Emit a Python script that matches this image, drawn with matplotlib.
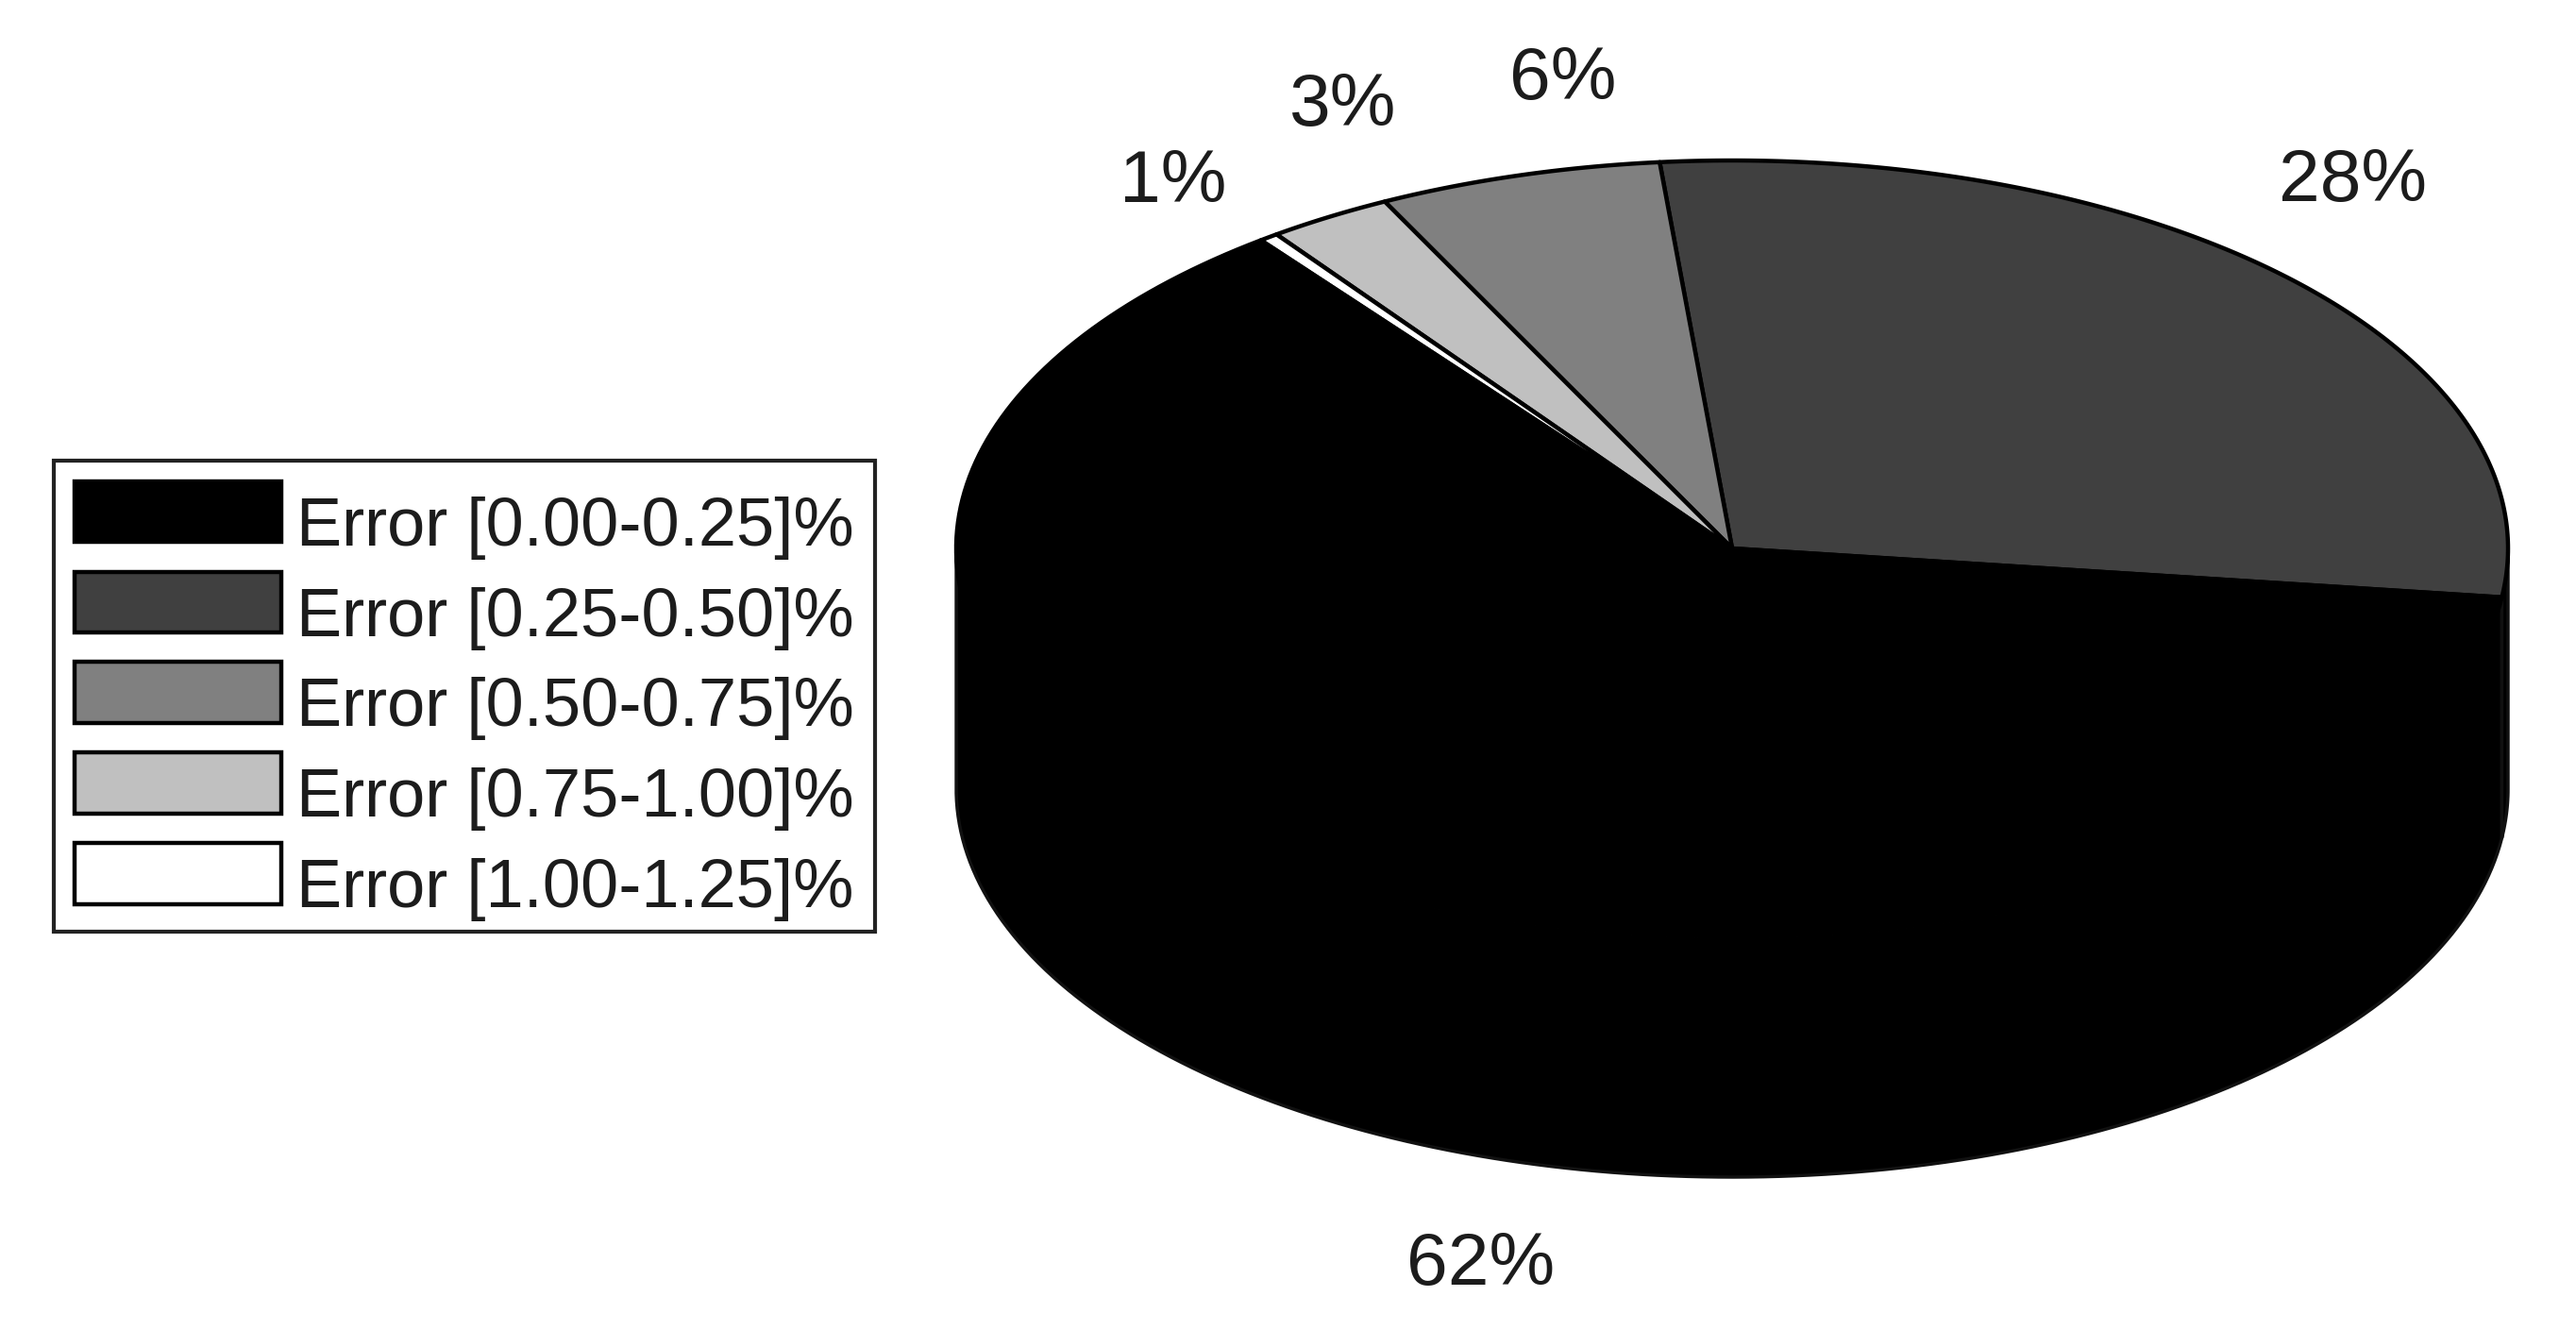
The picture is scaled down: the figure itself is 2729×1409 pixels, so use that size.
# 3d looking pie of the error bins, drawn by hand since matplotlib has no pie3
import matplotlib
matplotlib.use('Agg')
import matplotlib.pyplot as plt
import numpy as np

plt.rcParams['font.family'] = ['Liberation Sans', 'DejaVu Sans']

bins = ['Error [0.00-0.25]%', 'Error [0.25-0.50]%', 'Error [0.50-0.75]%',
        'Error [0.75-1.00]%', 'Error [1.00-1.25]%']
shares = [62.6, 28.5, 5.9, 2.6, 0.4]
shown = ['62%', '28%', '6%', '3%', '1%']
greys = ['#000000', '#404040', '#808080', '#c0c0c0', '#ffffff']

# ellipse of the top face and thickness, in pixels of the picture
cx, cy, rx, ry, depth = 1835, 581, 822, 411, 255
start = 127.4
label_pos = [(1569, 1340), (2492, 193), (1656, 85), (1422, 113), (1243, 193)]

fig = plt.figure(figsize=(27.29, 14.09), dpi=100)
ax = fig.add_axes([0, 0, 1, 1])
ax.set_xlim(0, 2729)
ax.set_ylim(1409, 0)
ax.set_axis_off()

edges = start + np.cumsum([0] + shares) * 3.6
handles = []
tops = []
for i in range(len(shares)):
    th = np.radians(np.linspace(edges[i], edges[i + 1], 200))
    x = cx + rx * np.cos(th)
    y = cy - ry * np.sin(th)
    tops.append((x, y))
    # side wall, only the front half can be seen
    front = np.sin(th) <= 0
    if front.any():
        xs = x[front]
        ys = y[front]
        ax.fill(np.r_[xs, xs[::-1]], np.r_[ys, ys[::-1] + depth],
                color='#000000', ec='#111111', lw=2.5, zorder=1)

for i in range(len(shares)):
    x, y = tops[i]
    h = ax.fill(np.r_[cx, x, cx], np.r_[cy, y, cy], fc=greys[i], ec='#000000',
                lw=3.2, joinstyle='round', zorder=2 + (i == 0))[0]
    handles.append(h)
    ax.text(label_pos[i][0], label_pos[i][1], shown[i], fontsize=56.5, color='#1c1c1c',
            ha='center', va='center')

leg = ax.legend(handles, bins, loc='upper left', bbox_to_anchor=(57 / 2729, 1 - 488 / 1409),
                borderaxespad=0, fontsize=52, handlelength=3.04, handleheight=1.0,
                handletextpad=0.22, borderpad=0.3, labelspacing=0.33, fancybox=False,
                framealpha=1, edgecolor='#222222', labelcolor='#1c1c1c')
leg.get_frame().set_linewidth(3)
# the labels sit lower against their boxes in the original
for t in leg.get_texts():
    t.set_y(-11)

plt.savefig('out.png', dpi=100)
